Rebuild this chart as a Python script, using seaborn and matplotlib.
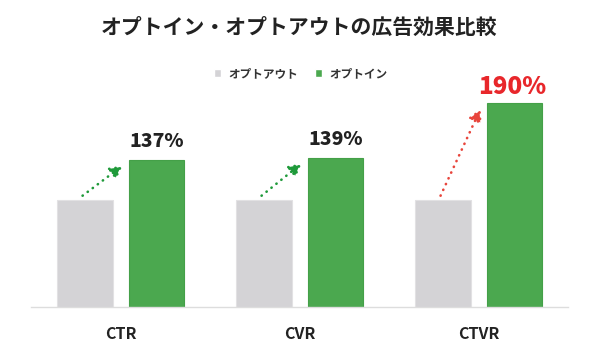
import matplotlib
matplotlib.use("Agg")
import matplotlib.pyplot as plt
import seaborn as sns
import pandas as pd

# ---- data ----
metrics = ["CTR", "CVR", "CTVR"]
series_names = ["オプトアウト", "オプトイン"]
optout_values = [100, 100, 100]
optin_values = [137, 139, 190]
title_text = "オプトイン・オプトアウトの広告効果比較"

df = pd.DataFrame({
    "metric": metrics * 2,
    "group": [series_names[0]] * 3 + [series_names[1]] * 3,
    "value": optout_values + optin_values,
})

sns.set_theme(style="white")
plt.rcParams["font.family"] = ["Noto Sans CJK JP", "DejaVu Sans"]
plt.rcParams["font.weight"] = "bold"

GREY = "#d4d3d6"
GREEN = "#4ba84f"
DARK = "#222222"
RED = "#e8272b"
ARROW_GREEN = "#1f9a3a"
ARROW_RED = "#e8453c"

fig = plt.figure(figsize=(6.0, 3.54), dpi=100)
ax = fig.add_axes([0.0517, 0.1314, 0.895, 0.6073])

sns.barplot(data=df, x="metric", y="value", hue="group",
            order=metrics, hue_order=series_names,
            palette=[GREY, GREEN], width=0.8, gap=0.224,
            saturation=1, ax=ax)

for p in ax.patches[:len(metrics) * 2]:
    fc = p.get_facecolor()
    p.set_edgecolor("#e2e1e3" if fc[1] > 0.75 else "#44a048")
    p.set_linewidth(0.8)

ax.set_xlim(-0.5, 2.5)
ax.set_ylim(0, 200)
ax.set_xlabel("")
ax.set_ylabel("")
ax.set_yticks([])
for s in ["left", "right", "top"]:
    ax.spines[s].set_visible(False)
ax.spines["bottom"].set_color("#dddddd")
ax.spines["bottom"].set_linewidth(1.0)
ax.tick_params(axis="x", length=0, pad=13, labelsize=11.5, labelcolor=DARK)
for lab in ax.get_xticklabels():
    lab.set_fontweight("bold")

# legend
sns.move_legend(ax, "center", bbox_to_anchor=(0.501, 0.791),
                bbox_transform=fig.transFigure, ncol=2, frameon=False,
                title=None, handlelength=0.65, handleheight=0.65,
                handletextpad=0.6, columnspacing=1.4,
                prop={"size": 8.4, "weight": "bold"})
for t in ax.get_legend().get_texts():
    t.set_color("#333333")

# title
fig.text(0.4992, 0.922, title_text, ha="center", va="center",
         fontsize=15, fontweight="bold", color=DARK)

# percentage labels and arrows
bars = ax.patches
n = len(metrics)
for i in range(n):
    g = bars[i]        # opt-out bar
    b = bars[n + i]    # opt-in bar
    ratio = optin_values[i] / optout_values[i]
    label = f"{round(ratio * 100)}%"
    highlight = i == n - 1
    color = RED if highlight else DARK
    size = 17.5 if highlight else 14
    bx = b.get_x() + b.get_width() / 2
    ax.annotate(label, xy=(bx - (0.012 if highlight else 0), b.get_height()),
                xytext=(0, 4 if highlight else 9),
                textcoords="offset pixels",
                ha="center", va="bottom", fontsize=size,
                fontweight="black", color=color)
    gx = g.get_x() + g.get_width() / 2 - 0.012
    start = (gx, g.get_height() + 4)
    end = (b.get_x() - 0.033, b.get_height() - 5)
    ax.annotate("", xy=end, xytext=start,
                arrowprops=dict(arrowstyle="-|>,head_length=0.6,head_width=0.33",
                                linestyle=(0, (0.1, 2.3)), lw=1.9,
                                capstyle="round",
                                color=ARROW_RED if highlight else ARROW_GREEN,
                                shrinkA=0, shrinkB=0))

fig.savefig("out.png", dpi=100, facecolor="white")
